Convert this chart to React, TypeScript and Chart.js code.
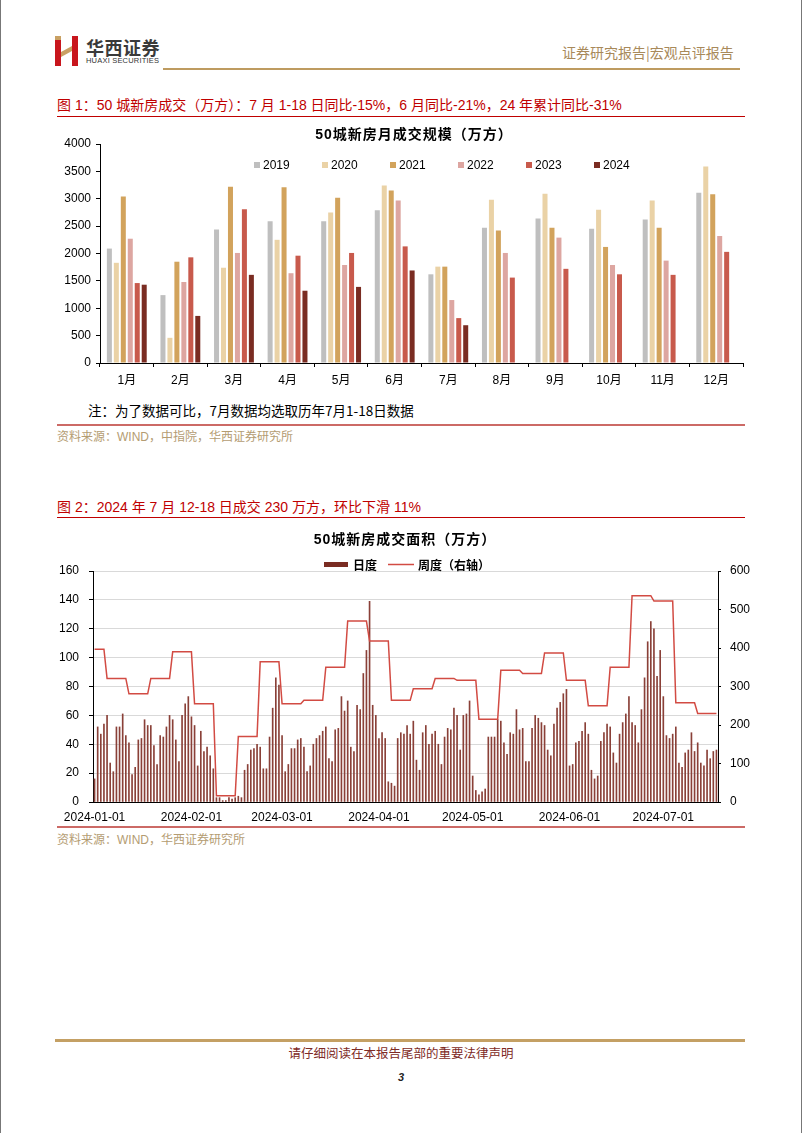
import React, { useEffect, useRef } from 'react';
import { Chart, registerables } from 'chart.js';

Chart.register(...registerables);

const FONT = '"Liberation Sans", "Noto Sans CJK SC", sans-serif';
const CJK = '"Noto Sans CJK SC", "Liberation Sans", sans-serif';

// ---------- Figure 1 data ----------
const months = ['1月', '2月', '3月', '4月', '5月', '6月', '7月', '8月', '9月', '10月', '11月', '12月'];
const yearLabels = ['2019', '2020', '2021', '2022', '2023', '2024'];
const v2019 = [2090, 1240, 2440, 2590, 2590, 2790, 1620, 2470, 2640, 2450, 2620, 3110];
const v2020 = [1830, 460, 1740, 2250, 2750, 3240, 1760, 2980, 3090, 2800, 2970, 3590];
const v2021 = [3040, 1850, 3220, 3210, 3020, 3150, 1760, 2420, 2470, 2120, 2470, 3080];
const v2022 = [2270, 1480, 2010, 1640, 1790, 2970, 1150, 2010, 2290, 1790, 1870, 2320];
const v2023 = [1460, 1930, 2810, 1960, 2010, 2130, 820, 1560, 1720, 1620, 1610, 2030];
const v2024 = [1430, 860, 1610, 1320, 1390, 1690, 690, null, null, null, null, null];
const yearColors = ['#BFBFBF', '#EAD2A6', '#D2A35C', '#DDA6A1', '#C85A4C', '#7A2C22'];
const y1Ticks = { min: 0, max: 4000, step: 500 };

// ---------- Figure 2 data ----------
const dailyJan = [16, 52, 47, 54, 60, 27, 21, 52, 52, 61, 46, 41, 19, 24, 43, 44, 57, 53, 53, 39, 26, 46, 45, 52, 60, 57, 43, 28, 60, 68, 73];
const dailyFeb = [59, 53, 25, 49, 35, 38, 32, 23, 3, 3, 1, 1, 3, 2, 3, 4, 3, 22, 26, 36, 37, 40, 38, 23, 23, 45, 65, 86, 81];
const dailyMar = [46, 21, 26, 37, 37, 43, 44, 38, 21, 25, 40, 44, 46, 49, 52, 30, 28, 50, 51, 73, 63, 70, 38, 35, 67, 64, 89, 105, 139, 67, 60];
const dailyApr = [44, 48, 44, 14, 13, 11, 44, 48, 47, 53, 47, 56, 29, 22, 48, 53, 40, 47, 49, 40, 26, 45, 51, 50, 65, 60, 36, 60, 61, 70];
const dailyMay = [18, 8, 5, 7, 9, 45, 45, 45, 57, 56, 41, 33, 48, 47, 64, 50, 51, 28, 28, 51, 60, 58, 55, 53, 36, 32, 54, 65, 69, 75, 78];
const dailyJun = [25, 26, 41, 42, 49, 55, 47, 22, 16, 18, 42, 48, 54, 52, 34, 27, 47, 55, 61, 73, 55, 53, 41, 64, 86, 111, 125, 120, 87, 105];
const dailyJul = [73, 46, 44, 47, 52, 27, 24, 34, 36, 48, 35, 41, 27, 25, 36, 30, 35, 36];
const dailyArea = [...dailyJan, ...dailyFeb, ...dailyMar, ...dailyApr, ...dailyMay, ...dailyJun, ...dailyJul];
// weekly totals (weeks ending Thursday; first week ends 2024-01-04)
const weeklyArea = [397, 321, 281, 321, 390, 255, 16, 170, 364, 255, 264, 350, 470, 418, 264, 294, 321, 316, 215, 342, 334, 387, 316, 250, 350, 536, 522, 258, 230];
const firstWeekDays = 4;
const y2LeftTicks = { min: 0, max: 160, step: 20 };
const y2RightTicks = { min: 0, max: 600, step: 100 };

const dateLabels = dailyArea.map((_, i) => new Date(Date.UTC(2024, 0, 1 + i)).toISOString().slice(0, 10));
const weeklyLine = dailyArea.map((_, i) => weeklyArea[i < firstWeekDays ? 0 : 1 + Math.floor((i - firstWeekDays) / 7)]);

const title1 = '50城新房月成交规模（万方）';
const title2 = '50城新房成交面积（万方）';

function ChartOne() {
  const ref = useRef<HTMLCanvasElement | null>(null);
  useEffect(() => {
    if (!ref.current) return;
    const overlay = {
      id: 'overlay1',
      afterDraw(chart: any) {
        const ctx = chart.ctx;
        ctx.save();
        ctx.fillStyle = '#000';
        ctx.font = `bold 14px ${FONT}`;
        ctx.textAlign = 'center';
        ctx.textBaseline = 'middle';
        (ctx as any).letterSpacing = '1px';
        ctx.fillText(title1, 364, 17);
        (ctx as any).letterSpacing = '0px';
        ctx.font = `12px ${FONT}`;
        ctx.textAlign = 'left';
        chart.data.datasets.forEach((ds: any, i: number) => {
          const x = 204 + i * 68;
          const y = 47;
          ctx.fillStyle = ds.backgroundColor;
          ctx.fillRect(x, y - 3, 6, 6);
          ctx.fillStyle = '#000';
          ctx.fillText(ds.label, x + 9, y + 1);
        });
        ctx.restore();
      },
    };
    const series = [v2019, v2020, v2021, v2022, v2023, v2024];
    const chart = new Chart(ref.current, {
      type: 'bar',
      data: {
        labels: months,
        datasets: yearLabels.map((lab, i) => ({
          label: lab,
          data: series[i] as any,
          backgroundColor: yearColors[i],
          categoryPercentage: 0.78,
          barPercentage: 0.72,
        })),
      },
      options: {
        animation: false,
        responsive: false,
        maintainAspectRatio: false,
        layout: { padding: { top: 26, right: 7, bottom: 7, left: 0 } },
        plugins: { legend: { display: false }, title: { display: false }, tooltip: { enabled: false } },
        scales: {
          x: {
            grid: { offset: true, drawOnChartArea: false, tickLength: 4, color: '#000', tickColor: '#000' },
            border: { color: '#000' },
            ticks: { font: { size: 12, family: FONT }, color: '#000', padding: 6, maxRotation: 0 },
            afterFit: (s: any) => { s.height = 30; },
          },
          y: {
            min: y1Ticks.min,
            max: y1Ticks.max,
            ticks: { stepSize: y1Ticks.step, font: { size: 12, family: FONT }, color: '#000', padding: 5, callback: (v: any) => String(v) },
            grid: { drawOnChartArea: false, tickLength: 4, tickColor: '#000' },
            border: { color: '#000' },
            afterFit: (s: any) => { s.width = 50; },
          },
        },
      },
      plugins: [overlay],
    });
    return () => chart.destroy();
  }, []);
  return <canvas ref={ref} width={700} height={282} style={{ position: 'absolute', left: 50, top: 118, width: 700, height: 282 }} />;
}

function ChartTwo() {
  const ref = useRef<HTMLCanvasElement | null>(null);
  useEffect(() => {
    if (!ref.current) return;
    const overlay = {
      id: 'overlay2',
      afterDraw(chart: any) {
        const ctx = chart.ctx;
        ctx.save();
        ctx.fillStyle = '#000';
        ctx.font = `bold 14px ${FONT}`;
        ctx.textAlign = 'center';
        ctx.textBaseline = 'middle';
        (ctx as any).letterSpacing = '1px';
        ctx.fillText(title2, 355, 15);
        (ctx as any).letterSpacing = '0px';
        ctx.font = `bold 12px ${CJK}`;
        ctx.textAlign = 'left';
        const bar = chart.data.datasets[1];
        const line = chart.data.datasets[0];
        ctx.fillStyle = '#7A2C22';
        ctx.fillRect(274, 37, 24, 5);
        ctx.fillStyle = '#000';
        ctx.fillText(bar.label, 303, 40);
        ctx.strokeStyle = line.borderColor;
        ctx.lineWidth = 1.5;
        ctx.beginPath();
        ctx.moveTo(338, 39.5);
        ctx.lineTo(364, 39.5);
        ctx.stroke();
        ctx.fillText(line.label, 368, 40);
        ctx.restore();
      },
    };
    const chart = new Chart(ref.current, {
      type: 'bar',
      data: {
        labels: dateLabels,
        datasets: [
          {
            type: 'line',
            label: '周度（右轴）',
            data: weeklyLine,
            yAxisID: 'y2',
            borderColor: '#D24B43',
            borderWidth: 1.5,
            pointRadius: 0,
            tension: 0,
            order: 0,
          } as any,
          {
            type: 'bar',
            label: '日度',
            data: dailyArea,
            yAxisID: 'y',
            backgroundColor: '#8A4038',
            barThickness: 1,
            order: 1,
          } as any,
        ],
      },
      options: {
        animation: false,
        responsive: false,
        maintainAspectRatio: false,
        layout: { padding: { top: 46, right: 5, bottom: 1, left: 0 } },
        plugins: { legend: { display: false }, title: { display: false }, tooltip: { enabled: false } },
        scales: {
          x: {
            grid: { display: true, drawOnChartArea: false, drawTicks: false },
            border: { color: '#000' },
            ticks: {
              autoSkip: false,
              maxRotation: 0,
              padding: 8,
              font: { size: 12, family: FONT },
              color: '#000',
              callback: (_v: any, i: number) => (dateLabels[i].endsWith('-01') ? dateLabels[i] : ''),
            },
            afterFit: (s: any) => { s.height = 22; },
          },
          y: {
            position: 'left',
            min: y2LeftTicks.min,
            max: y2LeftTicks.max,
            ticks: { stepSize: y2LeftTicks.step, padding: 10, font: { size: 12, family: FONT }, color: '#000' },
            grid: { color: '#D9D9D9', tickColor: '#000', tickLength: 4 },
            border: { color: '#000' },
            afterFit: (s: any) => { s.width = 43; },
          },
          y2: {
            position: 'right',
            min: y2RightTicks.min,
            max: y2RightTicks.max,
            ticks: { stepSize: y2RightTicks.step, padding: 9, font: { size: 12, family: FONT }, color: '#000' },
            grid: { drawOnChartArea: false, tickLength: 3, tickColor: '#000' },
            border: { color: '#000' },
            afterFit: (s: any) => { s.width = 37; },
          },
        },
      },
      plugins: [overlay],
    });
    return () => chart.destroy();
  }, []);
  return <canvas ref={ref} width={710} height={300} style={{ position: 'absolute', left: 50, top: 525, width: 710, height: 300 }} />;
}

const abs = (s: React.CSSProperties): React.CSSProperties => ({ position: 'absolute', lineHeight: 1, whiteSpace: 'nowrap', margin: 0, ...s });

export default function App() {
  return (
    <div style={{ position: 'absolute', left: 0, top: 0, width: 802, height: 1133, background: '#fff', overflow: 'hidden', fontFamily: FONT }}>
      <div style={abs({ left: 0, top: 0, width: 1, height: 1133, background: '#777' })} />
      <div style={abs({ left: 801, top: 0, width: 1, height: 1133, background: '#777' })} />

      {/* header */}
      <svg style={{ position: 'absolute', left: 54, top: 36 }} width={26} height={30} viewBox="0 0 26 30">
        <rect x={1} y={0} width={6} height={4} fill="#C9A063" />
        <rect x={1} y={4} width={6} height={26} fill="#C8161D" />
        <rect x={18} y={0} width={6} height={30} fill="#C8161D" />
        <polygon points="7,16 18,10 18,15 7,21" fill="#C9A063" />
      </svg>
      <div style={abs({ left: 86, top: 38, fontSize: 18, fontWeight: 700, color: '#3A3A3A', fontFamily: CJK, letterSpacing: 0.5 })}>华西证券</div>
      <div style={abs({ left: 86, top: 57, fontSize: 7.5, color: '#333', letterSpacing: 0.2 })}>HUAXI SECURITIES</div>
      <div style={abs({ left: 562, top: 45, fontSize: 14, color: '#A8895A', fontFamily: CJK })}>证券研究报告|宏观点评报告</div>
      <div style={abs({ left: 163, top: 68, width: 577, height: 2, background: '#BE9B60' })} />

      {/* figure 1 */}
      <div style={abs({ left: 57, top: 98, fontSize: 14, color: '#C00000', fontFamily: FONT })}>图 1：50 城新房成交（万方）：7 月 1-18 日同比-15%，6 月同比-21%，24 年累计同比-31%</div>
      <div style={abs({ left: 57, top: 116, width: 688, height: 1, background: '#C00000' })} />
      <ChartOne />
      <div style={abs({ left: 88, top: 404, fontSize: 13.5, color: '#000', fontFamily: CJK })}>注：为了数据可比，7月数据均选取历年7月1-18日数据</div>
      <div style={abs({ left: 57, top: 424, width: 688, height: 2, background: '#CC6A66' })} />
      <div style={abs({ left: 57, top: 431, fontSize: 12, color: '#B49C72', fontFamily: FONT })}>资料来源：WIND，中指院，华西证券研究所</div>

      {/* figure 2 */}
      <div style={abs({ left: 57, top: 500, fontSize: 14, color: '#C00000', fontFamily: FONT })}>图 2：2024 年 7 月 12-18 日成交 230 万方，环比下滑 11%</div>
      <div style={abs({ left: 57, top: 517, width: 688, height: 1, background: '#C00000' })} />
      <ChartTwo />
      <div style={abs({ left: 57, top: 826, width: 688, height: 2, background: '#CC6A66' })} />
      <div style={abs({ left: 57, top: 834, fontSize: 12, color: '#B49C72', fontFamily: FONT })}>资料来源：WIND，华西证券研究所</div>

      {/* footer */}
      <div style={abs({ left: 55, top: 1039, width: 690, height: 3, background: '#C4A064' })} />
      <div style={abs({ left: 0, width: 802, top: 1047, fontSize: 12.5, color: '#7E2A25', fontFamily: CJK, textAlign: 'center' })}>请仔细阅读在本报告尾部的重要法律声明</div>
      <div style={abs({ left: 0, width: 802, top: 1072, fontSize: 11, fontWeight: 700, fontStyle: 'italic', color: '#222', textAlign: 'center' })}>3</div>
    </div>
  );
}
